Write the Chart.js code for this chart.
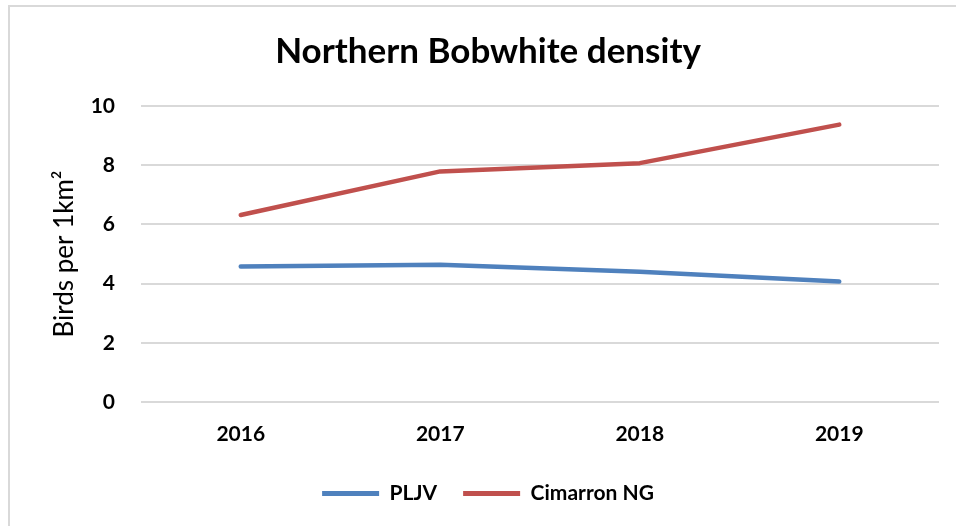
<!DOCTYPE html>
<html>
<head>
<meta charset="utf-8">
<script src="https://cdn.jsdelivr.net/npm/chart.js@4"></script>
<style>
  html, body { margin: 0; padding: 0; background: #fff; overflow: hidden; }
  #wrap { position: relative; width: 956px; height: 526px; }
  #frame { position: absolute; left: 8px; top: 5px; width: 970px; height: 540px; border: 2px solid #d9d9d9; box-sizing: border-box; }
  #chart { position: absolute; left: 0; top: 0; }
</style>
</head>
<body>
<div id="wrap">
  <div id="frame"></div>
  <canvas id="chart" width="956" height="526"></canvas>
</div>
<script>
// --- DATOS ---
const years = ['2016', '2017', '2018', '2019'];
const pljv = [4.58, 4.64, 4.40, 4.07];
const cimarron = [6.32, 7.79, 8.07, 9.37];
const yTicks = [0, 2, 4, 6, 8, 10];

const FONT = 'Lato, "Open Sans", sans-serif';

const ctx = document.getElementById('chart').getContext('2d');
new Chart(ctx, {
    type: 'line',
    data: {
        labels: years,
        datasets: [{
            label: 'PLJV',
            data: pljv,
            borderColor: '#4F81BD',
            backgroundColor: '#4F81BD',
            borderWidth: 4.5,
            borderCapStyle: 'round',
            borderJoinStyle: 'round',
            pointRadius: 0,
            tension: 0
        }, {
            label: 'Cimarron NG',
            data: cimarron,
            borderColor: '#C0504D',
            backgroundColor: '#C0504D',
            borderWidth: 4.5,
            borderCapStyle: 'round',
            borderJoinStyle: 'round',
            pointRadius: 0,
            tension: 0
        }]
    },
    options: {
        responsive: false,
        animation: false,
        layout: { padding: { left: 37, right: 17, top: 0, bottom: 12 } },
        plugins: {
            title: {
                display: true,
                text: 'Northern Bobwhite density',
                color: '#000',
                font: { family: FONT, size: 35, weight: 'bold' },
                padding: { top: 31, bottom: 33 }
            },
            legend: {
                position: 'bottom',
                labels: {
                    color: '#000',
                    font: { family: FONT, size: 21, weight: 'bold' },
                    boxWidth: 57,
                    boxHeight: 5,
                    padding: 26,
                    generateLabels: (chart) => chart.data.datasets.map((ds, i) => ({
                        text: ds.label,
                        fillStyle: ds.borderColor,
                        strokeStyle: ds.borderColor,
                        lineWidth: 0,
                        fontColor: '#000',
                        datasetIndex: i
                    }))
                }
            },
            tooltip: { enabled: false }
        },
        scales: {
            x: {
                offset: true,
                grid: { display: false, drawTicks: false },
                border: { display: false },
                ticks: {
                    color: '#000',
                    font: { family: FONT, size: 21, weight: 'bold' },
                    padding: 20
                },
                afterFit: (s) => { s.height = 55; }
            },
            y: {
                min: 0,
                max: 10,
                afterBuildTicks: (s) => { s.ticks = yTicks.map(v => ({ value: v })); },
                grid: { color: '#d9d9d9', lineWidth: 2, drawTicks: false },
                border: { display: false },
                ticks: {
                    color: '#000',
                    font: { family: FONT, size: 21, weight: 'bold' },
                    padding: 26
                },
                title: {
                    display: true,
                    text: 'Birds per 1km²',
                    color: '#000',
                    font: { family: FONT, size: 26, weight: 'normal' },
                    padding: { top: 12, bottom: 0 }
                },
                afterFit: (s) => { s.width = 104; }
            }
        }
    }
});
</script>
</body>
</html>
